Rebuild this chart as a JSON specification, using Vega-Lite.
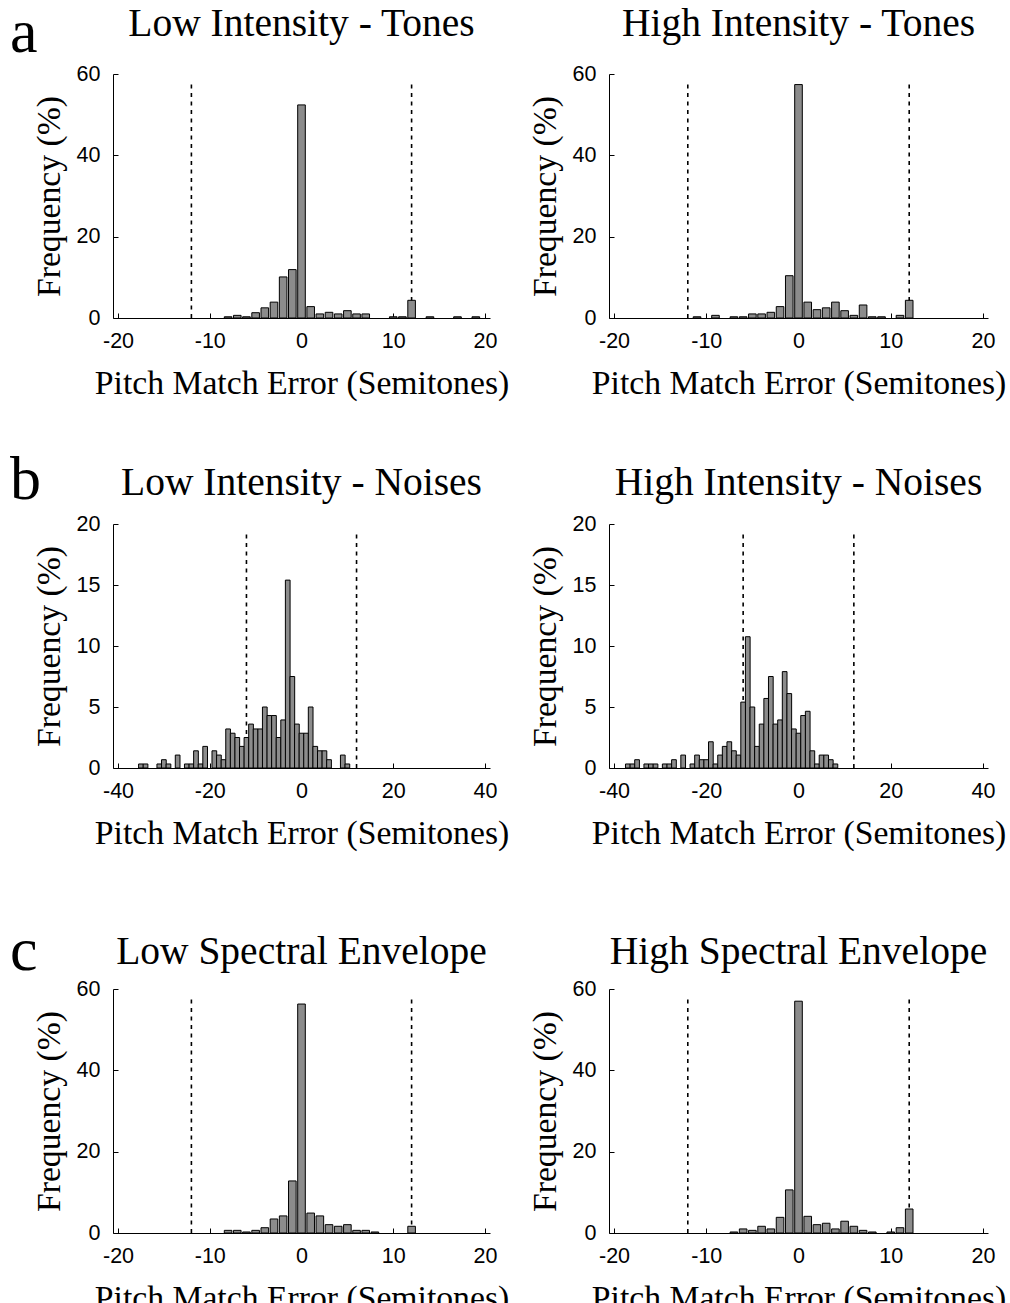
{
"$schema": "https://vega.github.io/schema/vega-lite/v6.json",
"padding": {"left": 10, "top": 1, "right": 5, "bottom": 0},
"background": "white",
"config": {
  "view": {"stroke": null},
  "axis": {"domainColor": "#000", "tickColor": "#000", "tickSize": -5, "domainWidth": 1, "tickWidth": 1, "labelFont": "Liberation Sans", "labelFontSize": 21.5, "labelColor": "#000", "titleFont": "Liberation Serif", "titleFontSize": 33.7, "titleFontWeight": "normal", "titleColor": "#000", "grid": false, "labelExpr": "'' + datum.value"},
  "axisX": {"titlePadding": 15, "labelPadding": 17},
  "axisY": {"titlePadding": 10, "labelPadding": 18},
  "title": {"font": "Liberation Serif", "fontSize": 39.5, "fontWeight": "normal", "color": "#000"}
},
"datasets": {
  "cut": [{"e": -12}, {"e": 12}],
  "aL": [{"e":-8,"f":0.3},{"e":-7,"f":0.65},{"e":-6,"f":0.3},{"e":-5,"f":1.3},{"e":-4,"f":2.5},{"e":-3,"f":3.9},{"e":-2,"f":10.1},{"e":-1,"f":11.9},{"e":0,"f":52.4},{"e":1,"f":2.8},{"e":2,"f":1.0},{"e":3,"f":1.4},{"e":4,"f":1.0},{"e":5,"f":1.8},{"e":6,"f":1.0},{"e":7,"f":1.0},{"e":10,"f":0.3},{"e":11,"f":0.3},{"e":12,"f":4.35},{"e":14,"f":0.3},{"e":17,"f":0.3},{"e":19,"f":0.3}],
  "aH": [{"e":-11,"f":0.3},{"e":-9,"f":0.65},{"e":-7,"f":0.3},{"e":-6,"f":0.3},{"e":-5,"f":1.0},{"e":-4,"f":1.0},{"e":-3,"f":1.4},{"e":-2,"f":2.8},{"e":-1,"f":10.4},{"e":0,"f":57.4},{"e":1,"f":3.9},{"e":2,"f":2.05},{"e":3,"f":2.5},{"e":4,"f":3.9},{"e":5,"f":1.8},{"e":6,"f":0.65},{"e":7,"f":3.2},{"e":8,"f":0.3},{"e":9,"f":0.3},{"e":11,"f":0.65},{"e":12,"f":4.35}],
  "bL": [{"e":-35,"f":0.33},{"e":-34,"f":0.33},{"e":-31,"f":0.33},{"e":-30,"f":0.68},{"e":-29,"f":0.33},{"e":-27,"f":1.06},{"e":-25,"f":0.33},{"e":-24,"f":0.33},{"e":-23,"f":1.41},{"e":-22,"f":0.33},{"e":-21,"f":1.77},{"e":-19,"f":1.41},{"e":-18,"f":1.06},{"e":-17,"f":0.68},{"e":-16,"f":3.2},{"e":-15,"f":2.85},{"e":-14,"f":2.5},{"e":-13,"f":1.77},{"e":-12,"f":2.5},{"e":-11,"f":3.6},{"e":-10,"f":3.2},{"e":-9,"f":3.2},{"e":-8,"f":5.0},{"e":-7,"f":4.3},{"e":-6,"f":4.3},{"e":-5,"f":2.5},{"e":-4,"f":3.94},{"e":-3,"f":15.4},{"e":-2,"f":7.5},{"e":-1,"f":3.6},{"e":0,"f":2.85},{"e":1,"f":2.85},{"e":2,"f":5.0},{"e":3,"f":1.77},{"e":4,"f":1.41},{"e":5,"f":1.41},{"e":6,"f":0.68},{"e":9,"f":1.06},{"e":10,"f":0.33}],
  "bH": [{"e":-37,"f":0.33},{"e":-36,"f":0.33},{"e":-35,"f":0.68},{"e":-33,"f":0.33},{"e":-32,"f":0.33},{"e":-31,"f":0.33},{"e":-29,"f":0.33},{"e":-28,"f":0.33},{"e":-27,"f":0.68},{"e":-25,"f":1.06},{"e":-23,"f":0.33},{"e":-22,"f":1.06},{"e":-21,"f":0.68},{"e":-20,"f":0.68},{"e":-19,"f":2.15},{"e":-18,"f":0.33},{"e":-17,"f":1.06},{"e":-16,"f":1.77},{"e":-15,"f":2.15},{"e":-14,"f":1.41},{"e":-13,"f":1.06},{"e":-12,"f":5.4},{"e":-11,"f":10.76},{"e":-10,"f":5.0},{"e":-9,"f":1.77},{"e":-8,"f":3.6},{"e":-7,"f":5.7},{"e":-6,"f":7.5},{"e":-5,"f":3.6},{"e":-4,"f":3.94},{"e":-3,"f":7.9},{"e":-2,"f":6.1},{"e":-1,"f":3.2},{"e":0,"f":2.85},{"e":1,"f":4.3},{"e":2,"f":4.65},{"e":3,"f":1.41},{"e":4,"f":0.33},{"e":5,"f":1.06},{"e":6,"f":1.06},{"e":7,"f":0.68},{"e":8,"f":0.33}],
  "cL": [{"e":-8,"f":0.65},{"e":-7,"f":0.65},{"e":-6,"f":0.25},{"e":-5,"f":0.65},{"e":-4,"f":1.3},{"e":-3,"f":3.45},{"e":-2,"f":4.2},{"e":-1,"f":12.8},{"e":0,"f":56.3},{"e":1,"f":4.9},{"e":2,"f":4.2},{"e":3,"f":2.05},{"e":4,"f":1.65},{"e":5,"f":2.05},{"e":6,"f":0.65},{"e":7,"f":0.65},{"e":8,"f":0.25},{"e":12,"f":1.65}],
  "cH": [{"e":-7,"f":0.25},{"e":-6,"f":1.0},{"e":-5,"f":0.65},{"e":-4,"f":1.65},{"e":-3,"f":1.0},{"e":-2,"f":3.85},{"e":-1,"f":10.6},{"e":0,"f":57.0},{"e":1,"f":4.1},{"e":2,"f":2.05},{"e":3,"f":2.4},{"e":4,"f":1.0},{"e":5,"f":2.9},{"e":6,"f":1.65},{"e":7,"f":0.65},{"e":8,"f":0.25},{"e":10,"f":0.25},{"e":11,"f":1.3},{"e":12,"f":5.9}]
},
"spacing": 68,
"vconcat": [
 {"spacing": 47, "vconcat": [
  {"spacing": 119, "bounds": "flush", "title": {"text": "a", "anchor": "start", "fontSize": 62, "offset": -60.5, "dx": -22},
   "hconcat": [
    {"width": 377, "height": 244, "title": {"text": "Low Intensity - Tones", "offset": 18.5}, "layer": [
      {"data": {"name": "cut"}, "mark": {"type": "rule", "strokeDash": [4, 4.5], "strokeWidth": 1.6, "color": "#000"},
       "encoding": {"x": {"field": "e", "type": "quantitative", "scale": {"domain": [-20, 20], "nice": false}, "title": "Pitch Match Error (Semitones)", "axis": {"values": [-20, -10, 0, 10, 20]}}, "y": {"datum": 0, "type": "quantitative", "title": "Frequency (%)"}, "y2": {"datum": 58}}},
      {"data": {"name": "aL"}, "mark": {"type": "bar", "orient": "vertical", "size": 7.6, "fill": "#8c8c8c", "stroke": "#000", "strokeWidth": 1},
       "encoding": {"x": {"field": "e", "type": "quantitative", "title": "Pitch Match Error (Semitones)"}, "y": {"field": "f", "type": "quantitative", "scale": {"domain": [0, 60], "nice": false}, "title": "Frequency (%)", "axis": {"values": [0, 20, 40, 60]}}}}
    ]},
    {"width": 379, "height": 244, "title": {"text": "High Intensity - Tones", "offset": 18.5}, "layer": [
      {"data": {"name": "cut"}, "mark": {"type": "rule", "strokeDash": [4, 4.5], "strokeWidth": 1.6, "color": "#000"},
       "encoding": {"x": {"field": "e", "type": "quantitative", "scale": {"domain": [-20, 20], "nice": false}, "title": "Pitch Match Error (Semitones)", "axis": {"values": [-20, -10, 0, 10, 20]}}, "y": {"datum": 0, "type": "quantitative", "title": "Frequency (%)"}, "y2": {"datum": 58}}},
      {"data": {"name": "aH"}, "mark": {"type": "bar", "orient": "vertical", "size": 7.6, "fill": "#8c8c8c", "stroke": "#000", "strokeWidth": 1},
       "encoding": {"x": {"field": "e", "type": "quantitative", "title": "Pitch Match Error (Semitones)"}, "y": {"field": "f", "type": "quantitative", "scale": {"domain": [0, 60], "nice": false}, "title": "Frequency (%)", "axis": {"values": [0, 20, 40, 60]}}}}
    ]}
   ]},
  {"spacing": 119, "bounds": "flush", "title": {"text": "b", "anchor": "start", "fontSize": 62, "offset": -49, "dx": -22},
   "hconcat": [
    {"width": 377, "height": 244, "title": {"text": "Low Intensity - Noises", "offset": 10}, "layer": [
      {"data": {"name": "cut"}, "mark": {"type": "rule", "strokeDash": [4, 4.5], "strokeWidth": 1.6, "color": "#000"},
       "encoding": {"x": {"field": "e", "type": "quantitative", "scale": {"domain": [-40, 40], "nice": false}, "title": "Pitch Match Error (Semitones)", "axis": {"values": [-40, -20, 0, 20, 40]}}, "y": {"datum": 0, "type": "quantitative", "title": "Frequency (%)"}, "y2": {"datum": 19.2}}},
      {"data": {"name": "bL"}, "mark": {"type": "bar", "orient": "vertical", "size": 4.7, "fill": "#8c8c8c", "stroke": "#000", "strokeWidth": 1},
       "encoding": {"x": {"field": "e", "type": "quantitative", "title": "Pitch Match Error (Semitones)"}, "y": {"field": "f", "type": "quantitative", "scale": {"domain": [0, 20], "nice": false}, "title": "Frequency (%)", "axis": {"values": [0, 5, 10, 15, 20]}}}}
    ]},
    {"width": 379, "height": 244, "title": {"text": "High Intensity - Noises", "offset": 10}, "layer": [
      {"data": {"name": "cut"}, "mark": {"type": "rule", "strokeDash": [4, 4.5], "strokeWidth": 1.6, "color": "#000"},
       "encoding": {"x": {"field": "e", "type": "quantitative", "scale": {"domain": [-40, 40], "nice": false}, "title": "Pitch Match Error (Semitones)", "axis": {"values": [-40, -20, 0, 20, 40]}}, "y": {"datum": 0, "type": "quantitative", "title": "Frequency (%)"}, "y2": {"datum": 19.2}}},
      {"data": {"name": "bH"}, "mark": {"type": "bar", "orient": "vertical", "size": 4.7, "fill": "#8c8c8c", "stroke": "#000", "strokeWidth": 1},
       "encoding": {"x": {"field": "e", "type": "quantitative", "title": "Pitch Match Error (Semitones)"}, "y": {"field": "f", "type": "quantitative", "scale": {"domain": [0, 20], "nice": false}, "title": "Frequency (%)", "axis": {"values": [0, 5, 10, 15, 20]}}}}
    ]}
   ]}
 ]},
 {"spacing": 119, "bounds": "flush", "title": {"text": "c", "anchor": "start", "fontSize": 62, "offset": -51, "dx": -22},
  "hconcat": [
    {"width": 377, "height": 244, "title": {"text": "Low Spectral Envelope", "offset": 6}, "layer": [
      {"data": {"name": "cut"}, "mark": {"type": "rule", "strokeDash": [4, 4.5], "strokeWidth": 1.6, "color": "#000"},
       "encoding": {"x": {"field": "e", "type": "quantitative", "scale": {"domain": [-20, 20], "nice": false}, "title": "Pitch Match Error (Semitones)", "axis": {"values": [-20, -10, 0, 10, 20]}}, "y": {"datum": 0, "type": "quantitative", "title": "Frequency (%)"}, "y2": {"datum": 58}}},
      {"data": {"name": "cL"}, "mark": {"type": "bar", "orient": "vertical", "size": 7.6, "fill": "#8c8c8c", "stroke": "#000", "strokeWidth": 1},
       "encoding": {"x": {"field": "e", "type": "quantitative", "title": "Pitch Match Error (Semitones)"}, "y": {"field": "f", "type": "quantitative", "scale": {"domain": [0, 60], "nice": false}, "title": "Frequency (%)", "axis": {"values": [0, 20, 40, 60]}}}}
    ]},
    {"width": 379, "height": 244, "title": {"text": "High Spectral Envelope", "offset": 6}, "layer": [
      {"data": {"name": "cut"}, "mark": {"type": "rule", "strokeDash": [4, 4.5], "strokeWidth": 1.6, "color": "#000"},
       "encoding": {"x": {"field": "e", "type": "quantitative", "scale": {"domain": [-20, 20], "nice": false}, "title": "Pitch Match Error (Semitones)", "axis": {"values": [-20, -10, 0, 10, 20]}}, "y": {"datum": 0, "type": "quantitative", "title": "Frequency (%)"}, "y2": {"datum": 58}}},
      {"data": {"name": "cH"}, "mark": {"type": "bar", "orient": "vertical", "size": 7.6, "fill": "#8c8c8c", "stroke": "#000", "strokeWidth": 1},
       "encoding": {"x": {"field": "e", "type": "quantitative", "title": "Pitch Match Error (Semitones)"}, "y": {"field": "f", "type": "quantitative", "scale": {"domain": [0, 60], "nice": false}, "title": "Frequency (%)", "axis": {"values": [0, 20, 40, 60]}}}}
    ]}
  ]}
]
}
